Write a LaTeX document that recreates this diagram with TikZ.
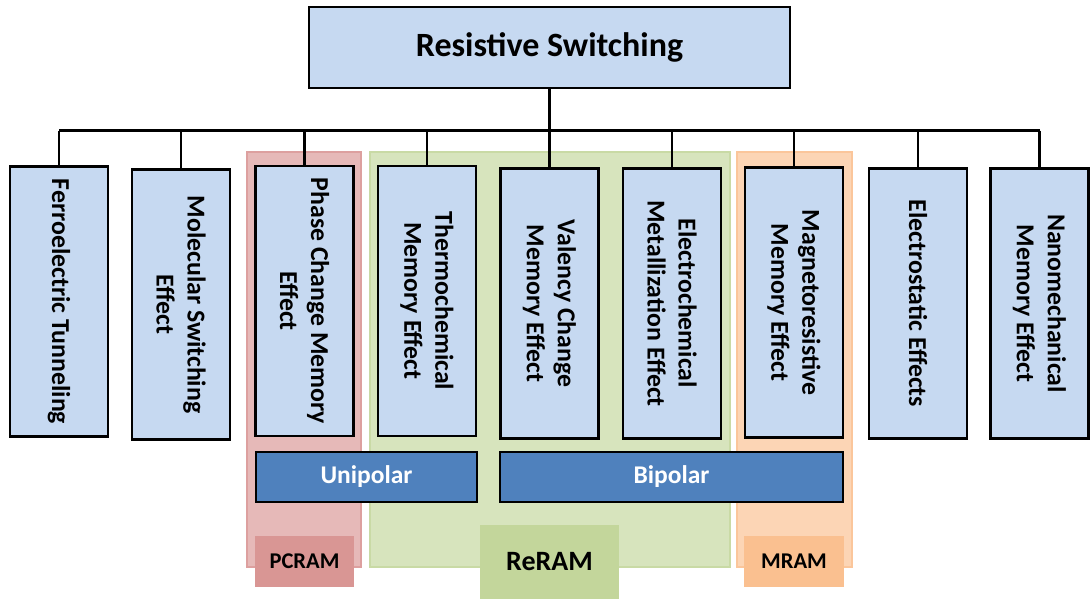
\documentclass[tikz,border=0pt]{standalone}
\usepackage{fontspec}
\setmainfont{Carlito}
\definecolor{boxblue}{HTML}{C6D9F1}
\definecolor{barblue}{HTML}{4F81BD}
\definecolor{pcfill}{HTML}{E6B9B8}
\definecolor{pcdark}{HTML}{D99694}
\definecolor{refill}{HTML}{D7E4BD}
\definecolor{redark}{HTML}{C3D69B}
\definecolor{mrfill}{HTML}{FCD5B5}
\definecolor{mrdark}{HTML}{FAC090}
\begin{document}
\begin{tikzpicture}[x=1pt,y=-1pt,
  every node/.style={inner sep=0pt},
  topbox/.style={draw=black, line width=2.6pt, fill=boxblue, minimum width=481pt, minimum height=81pt, font=\bfseries\fontsize{34}{40}\selectfont},
  effect/.style={draw=black, line width=2.6pt, fill=boxblue, rotate=-90, minimum width=270pt, minimum height=98pt, align=center, font=\bfseries\fontsize{25.8}{31}\selectfont},
  region/.style={line width=2pt, minimum height=415pt},
  tagbox/.style={font=\bfseries\fontsize{22.5}{26}\selectfont},
  polebar/.style={draw=black, line width=2.6pt, fill=barblue, text=white, minimum height=50pt, font=\bfseries\fontsize{25.5}{30}\selectfont},
  conn/.style={draw=black, line width=2.8pt}]
\useasboundingbox (0,0) rectangle (1091,599);
% regions
\node[region, draw=pcdark!70!pcfill, fill=pcfill, minimum width=114pt] (pcreg) at (304,359.5) {};
\node[region, draw=redark!70!refill, fill=refill, minimum width=360pt] (rereg) at (550,359.5) {};
\node[region, draw=mrdark!70!mrfill, fill=mrfill, minimum width=115pt] (mrreg) at (794.5,359.5) {};
% top
\node[topbox] (top) at (549.5,47.5) {Resistive Switching};
\coordinate (busL) at (59,130.5);
\coordinate (busR) at (1039.5,130.5);
% effect boxes
\node[effect] (b1) at (59,301.5) {Ferroelectric Tunneling};
\node[effect] (b2) at (181,304.5) {Molecular Switching\\Effect};
\node[effect] (b3) at (304.5,301) {Phase Change Memory\\Effect};
\node[effect] (b4) at (427,301) {Thermochemical\\Memory Effect};
\node[effect] (b5) at (549.5,303.5) {Valency Change\\Memory Effect};
\node[effect] (b6) at (672,303.5) {Electrochemical\\Metallization Effect};
\node[effect] (b7) at (794,302.5) {Magnetoresistive\\Memory Effect};
\node[effect] (b8) at (918,303.5) {Electrostatic Effects};
\node[effect] (b9) at (1039.5,303.5) {Nanomechanical\\Memory Effect};
% connectors
\draw[conn] (busL) -- (busR);
\draw[conn] (top) -- (top |- busL);
\foreach \b in {b1,b2,b3,b4,b5,b6,b7,b8,b9}{
  \draw[conn] (\b |- busL) -- (\b);
}
% bars
\node[polebar, minimum width=221pt] (uni) at (366.5,477) {Unipolar};
\node[polebar, minimum width=343pt] (bi) at (671.5,477) {Bipolar};
% tags
\node[tagbox, fill=pcdark, minimum width=99pt, minimum height=51pt] (pctag) at (304.5,561.5) {PCRAM};
\node[tagbox, fill=redark, minimum width=139pt, minimum height=74pt, font=\bfseries\fontsize{28}{32}\selectfont] (retag) at (549.5,562) {ReRAM};
\node[tagbox, fill=mrdark, minimum width=100pt, minimum height=51pt] (mrtag) at (794,561.5) {MRAM};
\end{tikzpicture}
\end{document}
